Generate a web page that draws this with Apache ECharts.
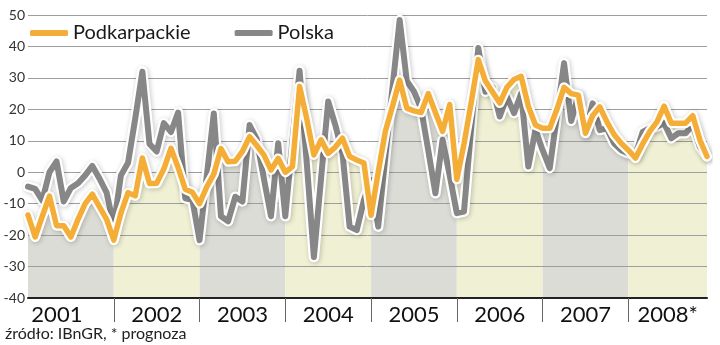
<!DOCTYPE html>
<html>
<head>
<meta charset="utf-8">
<script src="https://cdn.jsdelivr.net/npm/echarts@6/dist/echarts.min.js"></script>
<style>
  html, body { margin: 0; padding: 0; background: #fff; }
  #chart { width: 720px; height: 345px; }
</style>
</head>
<body>
<div id="chart"></div>
<script>
// Monthly business-climate balance, 2001-2008 (2008 = forecast)
const years = ['2001', '2002', '2003', '2004', '2005', '2006', '2007', '2008*'];

const podkarpackie = [
  -13.6, -20.6, -14, -7.6, -17, -17, -20.6, -15, -10, -7, -11, -15,
  -21.6, -13, -6.5, -7.5, 4.5, -3.6, -3.5, 1, 7.6, 1.5, -5.4, -6.4,
  -10, -4.7, -0.6, 7.5, 3.3, 3.5, 6.6, 11.3, 8.5, 5.5, 0.7, 4.4,
  0, 1.8, 27.3, 17, 5.5, 10.3, 6, 8, 10.8, 5, 3.9, 2.9,
  -13.7, 0, 13, 21, 29.3, 20.4, 19.5, 19, 25, 19, 13, 21.5,
  -2.3, 9, 22, 35.8, 29, 25.5, 22, 27, 29.5, 30.5, 21, 15,
  14, 14, 20, 27, 25, 24.5, 12.4, 18, 20.8, 16, 12, 9.2,
  7, 4.5, 9, 13, 16, 21, 15.6, 15.6, 15.6, 18, 10.3, 5
];

const polska = [
  -4.6, -5.3, -9, 0, 3.4, -9.3, -5, -3.5, -1, 2, -2, -6.5,
  -17, -1, 3, 17, 32, 9, 6.6, 15.6, 12.8, 19, -8.3, -8.8,
  -21.6, -1.5, 18.7, -14, -15.6, -7.8, -9.3, 15, 10.5, -2, -14, 9.2,
  -14, 10, 32.3, 3, -27, -2, 22.5, 15, 6, -17.3, -18.4, -8.8,
  -2.5, -17.3, 5, 27, 48.4, 29, 25.7, 20.3, 7, -6.7, 10.3, -1,
  -13, -12.5, 14, 39.5, 25.6, 27, 17.7, 24, 18.8, 25, 1.8, 13.5,
  7, 1.3, 18, 34.7, 16.3, 24.5, 12.5, 21.9, 13.4, 14, 9.2, 7,
  6, 5.5, 12.8, 14, 14.5, 15.6, 10.8, 12.4, 12.4, 15, 8.2, 5
];

const yMin = -40, yMax = 50, yStep = 10;
const monthsPerYear = 12;

// ---- layout & style ----
const FONT = 'Lato, "Noto Sans", sans-serif';
const ORANGE = '#f4ae38';
const GREY = '#878787';
const BAND_COLORS = ['#dcdcd7', '#f0f0d4'];
const GRID = { left: 28, right: 13, top: 15, bottom: 47 };
const W = 720;

const n = podkarpackie.length;
const lastIdx = n - 1;
const unit = (W - GRID.left - GRID.right) / lastIdx;

// year bands in month-index units
const bands = years.map((y, k) => [k * monthsPerYear, Math.min((k + 1) * monthsPerYear, lastIdx)]);
// label anchors: middle of each band; the first strip starts at the page edge
const labelAt = bands.map(([a, b], k) => ((k === 0 ? -GRID.left / unit : a) + b) / 2);
const separators = bands.slice(1).map(b => b[0]);

const pairs = arr => arr.map((v, i) => [i, v]);

const chart = echarts.init(document.getElementById('chart'), null, { renderer: 'canvas' });

const lineBase = {
  type: 'line',
  showSymbol: false,
  symbol: 'none',
  silent: true,
  animation: false
};

chart.setOption({
  animation: false,
  textStyle: { fontFamily: FONT },
  grid: GRID,
  legend: {
    data: ['Podkarpackie', 'Polska'],
    left: 25,
    top: 18,
    z: 10,
    icon: 'roundRect',
    itemWidth: 38,
    itemHeight: 6,
    itemGap: 44,
    textStyle: { fontSize: 20, color: '#1a1a1a', fontFamily: FONT }
  },
  xAxis: {
    type: 'value',
    min: 0,
    max: lastIdx,
    z: 3,
    splitLine: { show: false },
    axisLine: { show: true, onZero: false, lineStyle: { color: '#222', width: 2 } },
    axisTick: {
      show: true,
      customValues: separators,
      length: 24,
      lineStyle: { color: '#666', width: 1 }
    },
    axisLabel: {
      customValues: labelAt,
      margin: 6,
      fontSize: 22,
      color: '#111',
      fontFamily: FONT,
      formatter: v => {
        const k = labelAt.findIndex(p => Math.abs(p - v) < 1e-6);
        return k >= 0 ? years[k] : '';
      }
    }
  },
  yAxis: {
    type: 'value',
    min: yMin,
    max: yMax,
    interval: yStep,
    z: 3,
    axisLine: { show: false },
    axisTick: { show: false },
    splitLine: { show: true, lineStyle: { color: '#9e9e9e', width: 1 } },
    axisLabel: {
      margin: 3,
      fontSize: 14,
      color: '#333',
      fontFamily: FONT,
      verticalAlign: 'middle',
      padding: [0, 0, 10, 0]
    }
  },
  series: [
    // alternating year bands
    Object.assign({}, lineBase, {
      name: 'bands',
      z: 1,
      data: pairs(podkarpackie),
      lineStyle: { opacity: 0, width: 0 },
      markArea: {
        silent: true,
        label: { show: false },
        data: bands.map(([a, b], k) => [
          { xAxis: a, itemStyle: { color: BAND_COLORS[k % 2], opacity: 1 } },
          { xAxis: b }
        ])
      }
    }),
    // white above the regional line, so the bands only show beneath it
    Object.assign({}, lineBase, {
      name: 'cover',
      z: 2,
      data: pairs(podkarpackie),
      lineStyle: { width: 0, opacity: 0 },
      areaStyle: { color: '#ffffff', opacity: 1, origin: 'end' }
    }),
    // Polska: halo + line
    Object.assign({}, lineBase, {
      name: 'polska-halo',
      z: 4,
      data: pairs(polska),
      lineStyle: {
        color: '#ffffff', width: 10.5, cap: 'round', join: 'round',
        shadowColor: 'rgba(0,0,0,0.22)', shadowBlur: 5, shadowOffsetX: 1, shadowOffsetY: 1
      }
    }),
    Object.assign({}, lineBase, {
      name: 'Polska',
      z: 5,
      color: GREY,
      data: pairs(polska),
      lineStyle: { color: GREY, width: 6, cap: 'round', join: 'round' }
    }),
    // Podkarpackie: halo + line
    Object.assign({}, lineBase, {
      name: 'podkarpackie-halo',
      z: 6,
      data: pairs(podkarpackie),
      lineStyle: {
        color: '#ffffff', width: 10, cap: 'round', join: 'round',
        shadowColor: 'rgba(0,0,0,0.22)', shadowBlur: 5, shadowOffsetX: 1, shadowOffsetY: 1
      }
    }),
    Object.assign({}, lineBase, {
      name: 'Podkarpackie',
      z: 7,
      color: ORANGE,
      data: pairs(podkarpackie),
      lineStyle: { color: ORANGE, width: 5.5, cap: 'round', join: 'round' }
    })
  ],
  graphic: [
    {
      type: 'text',
      left: 5,
      top: 326,
      style: { text: 'źródło: IBnGR, * prognoza', fontSize: 16, fill: '#222', fontFamily: FONT }
    }
  ]
});
</script>
</body>
</html>
